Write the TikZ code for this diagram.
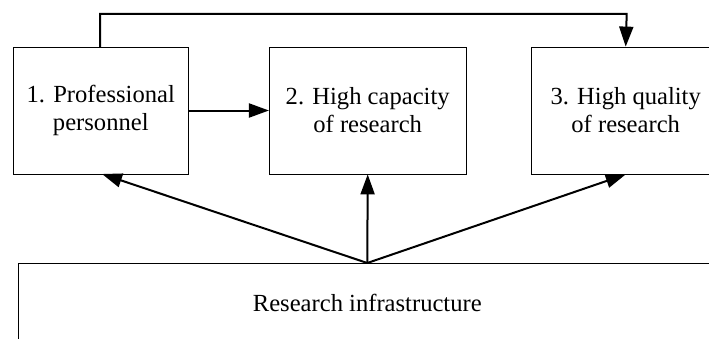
\documentclass[tikz,border=0pt]{standalone}
\usepackage{fontspec}
\setmainfont{Liberation Serif}
\usetikzlibrary{arrows.meta}
\begin{document}
\begin{tikzpicture}[x=1pt,y=1pt,
  box/.style={draw, line width=0.8pt, inner sep=0pt, align=center,
    font=\fontsize{24.6}{28}\selectfont},
  arr/.style={line width=2pt, -{Triangle[length=20pt,width=14pt]}},
  conn/.style={line width=2pt}]
\useasboundingbox (0,0) rectangle (709,338);
\clip (0,0) rectangle (709,338);
\node[box, minimum width=175pt, minimum height=127pt] (p1) at (100.8,227.5) {1. Professional\\personnel};
\node[box, minimum width=196.7pt, minimum height=127pt] (p2) at (367.7,227.5) {2. High capacity\\of research};
\node[box, minimum width=188pt, minimum height=127pt] (p3) at (625.7,227.5) {3. High quality\\of research};
\node[box, minimum width=698pt, minimum height=80pt] (ri) at (367.3,35) {Research infrastructure};
\coordinate (src) at (367.3,75);
\draw[arr] (p1.east) -- (p2.west);
\draw[arr] (src) -- (102,164);
\draw[arr] (src) -- (p2.south);
\draw[arr] (src) -- (p3.south);
\draw[conn, -{Triangle[length=20pt,width=14pt]}] (100,291) |- (626.7,324) -- (p3.north);
\end{tikzpicture}
\end{document}
